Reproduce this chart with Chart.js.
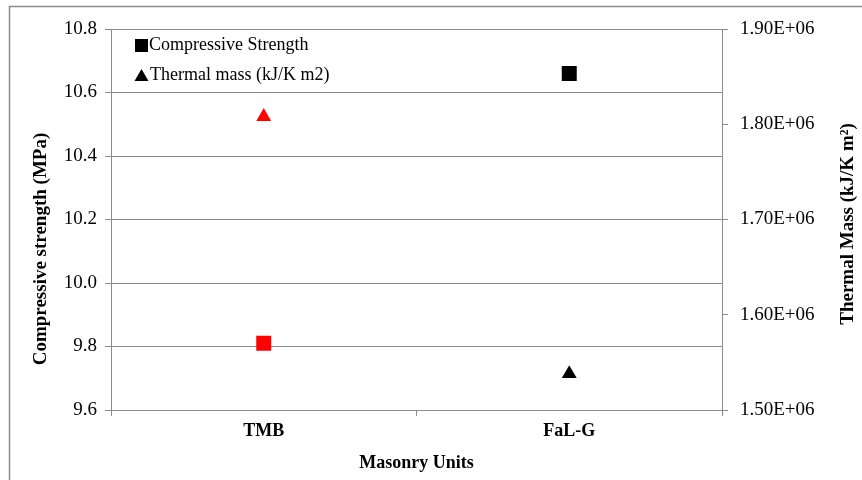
<!DOCTYPE html>
<html>
<head>
<meta charset="utf-8">
<script src="https://cdn.jsdelivr.net/npm/chart.js@4"></script>
<style>
  html, body { margin: 0; padding: 0; background: #fff; }
  #wrap { position: relative; width: 862px; height: 480px; }
</style>
</head>
<body>
<div id="wrap"><canvas id="chart" width="862" height="480"></canvas></div>
<script>
// chart data
const categories = ['TMB', 'FaL-G'];
const compressiveStrength = [9.81, 10.66];
const thermalMass = [1.808e6, 1.538e6];
const pointColors = ['#ff0000', '#000000'];
const leftTicks = [9.6, 9.8, 10.0, 10.2, 10.4, 10.6, 10.8];
const rightTicks = [1.5e6, 1.6e6, 1.7e6, 1.8e6, 1.9e6];

const serif = '"Liberation Serif", "Times New Roman", serif';

// frame, legend and both axis titles (right one reads bottom to top)
const extras = {
    id: 'extras',
    beforeDraw(chart) {
        const ctx = chart.ctx;
        ctx.save();
        ctx.strokeStyle = '#8c8c8c';
        ctx.lineWidth = 1.5;
        ctx.beginPath();
        ctx.moveTo(9.5, 480);
        ctx.lineTo(9.5, 6.5);
        ctx.lineTo(862, 6.5);
        ctx.stroke();
        ctx.restore();
    },
    afterDraw(chart) {
        const ctx = chart.ctx;
        ctx.save();
        // legend
        ctx.fillStyle = '#000';
        ctx.font = '18px ' + serif;
        ctx.textBaseline = 'middle';
        ctx.fillRect(135, 39, 13, 13);
        ctx.fillText(chart.data.datasets[0].label, 149, 45);
        ctx.beginPath();
        ctx.moveTo(141.5, 69);
        ctx.lineTo(148.5, 81);
        ctx.lineTo(134.5, 81);
        ctx.closePath();
        ctx.fill();
        ctx.fillText(chart.data.datasets[1].label, 150, 75);

        ctx.textAlign = 'center';
        ctx.font = 'bold 19px ' + serif;

        ctx.save();
        ctx.translate(41, 249);
        ctx.rotate(-Math.PI / 2);
        ctx.fillText('Compressive strength (MPa)', 0, 0);
        ctx.restore();

        ctx.save();
        ctx.translate(848, 224);
        ctx.rotate(-Math.PI / 2);
        ctx.fillText('Thermal Mass (kJ/K m\u00B2)', 0, 0);
        ctx.restore();

        ctx.restore();
    }
};

new Chart(document.getElementById('chart'), {
    type: 'line',
    data: {
        labels: categories,
        datasets: [
            {
                label: 'Compressive Strength',
                data: compressiveStrength,
                yAxisID: 'y',
                showLine: false,
                pointStyle: 'rect',
                pointRadius: 10.6,
                pointHoverRadius: 10.6,
                pointBorderWidth: 0,
                pointBackgroundColor: pointColors,
                pointBorderColor: pointColors
            },
            {
                label: 'Thermal mass (kJ/K m2)',
                data: thermalMass,
                yAxisID: 'y1',
                showLine: false,
                pointStyle: 'triangle',
                pointRadius: 8.6,
                pointHoverRadius: 8.6,
                pointBorderWidth: 0,
                pointBackgroundColor: pointColors,
                pointBorderColor: pointColors
            }
        ]
    },
    options: {
        responsive: false,
        animation: false,
        layout: { padding: { top: 29, bottom: 0, left: 0, right: 0 } },
        plugins: {
            legend: { display: false },
            tooltip: { enabled: false }
        },
        scales: {
            x: {
                type: 'category',
                offset: true,
                grid: { drawOnChartArea: false, color: '#8c8c8c', tickLength: 6, offset: true },
                border: { color: '#8c8c8c' },
                ticks: { color: '#000', font: { family: serif, size: 18, weight: 'bold' }, padding: 5 },
                title: { display: true, text: 'Masonry Units', color: '#000', font: { family: serif, size: 18, weight: 'bold' }, padding: { top: 4, bottom: 6 } },
                afterFit(scale) { scale.height = 70; }
            },
            y: {
                position: 'left',
                min: 9.6,
                max: 10.8,
                afterBuildTicks(scale) { scale.ticks = leftTicks.map(v => ({ value: v })); },
                grid: { color: '#8c8c8c', tickLength: 6 },
                border: { color: '#8c8c8c' },
                ticks: {
                    color: '#000',
                    font: { family: serif, size: 19 },
                    padding: 8,
                    callback: v => v.toFixed(1)
                },
                afterFit(scale) { scale.width = 111; }
            },
            y1: {
                position: 'right',
                min: 1.5e6,
                max: 1.9e6,
                afterBuildTicks(scale) { scale.ticks = rightTicks.map(v => ({ value: v })); },
                grid: { drawOnChartArea: false, color: '#8c8c8c', tickLength: 6 },
                border: { color: '#8c8c8c' },
                ticks: {
                    color: '#000',
                    font: { family: serif, size: 19 },
                    padding: 12,
                    callback: v => (v / 1e6).toFixed(2) + 'E+06'
                },
                afterFit(scale) { scale.width = 140; }
            }
        }
    },
    plugins: [extras]
});
</script>
</body>
</html>
